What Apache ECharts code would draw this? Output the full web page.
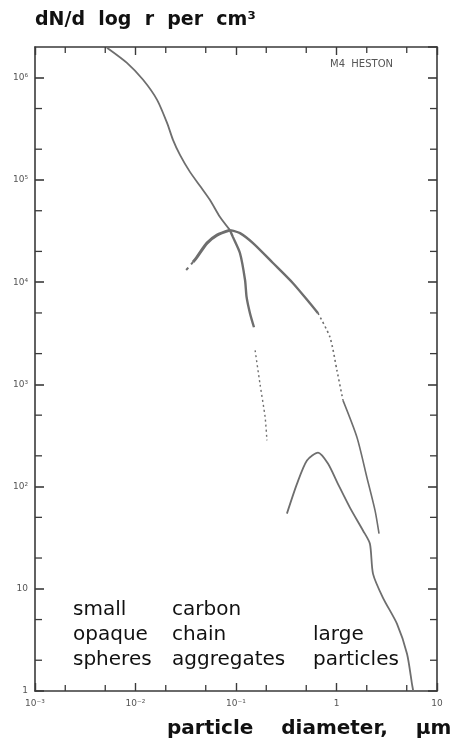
<!DOCTYPE html>
<html>
<head>
<meta charset="utf-8">
<script src="https://cdn.jsdelivr.net/npm/echarts@6/dist/echarts.min.js"></script>
<style>html,body{margin:0;padding:0;background:#fff}#c{width:457px;height:750px}</style>
</head>
<body>
<div id="c"></div>
<script>
// ---- data ----
// particle diameter (µm), dN/d log r (per cm3)
const mainUpper = [[0.0052,1.97e6],[0.00822,1.40e6],[0.0119,9.56e5],[0.0164,6.08e5],[0.0206,3.62e5],[0.0236,2.47e5],[0.0277,1.76e5],[0.0348,1.20e5],[0.0439,8.73e4],[0.0551,6.37e4],[0.0693,4.34e4],[0.0871,3.23e4]];
const rightBranchSolid = [[0.0871,3.23e4],[0.1096,3.02e4],[0.1476,2.41e4],[0.2333,1.54e4],[0.369,9.77e3],[0.544,6.22e3],[0.655,4.97e3]];
const rightBranchDotted = [[0.655,4.97e3],[0.861,2.89e3],[1.01,1.37e3],[1.16,697]];
const rightBranchTail = [[1.16,697],[1.60,302],[2.01,122],[2.42,58.2],[2.65,34.6]];
const leftBranchSolid = [[0.0871,3.23e4],[0.0647,2.89e4],[0.0514,2.41e4],[0.0409,1.76e4],[0.0373,1.57e4]];
const leftBranchDashed = [[0.0373,1.57e4],[0.0318,1.31e4]];
const steepBranchSolid = [[0.0871,3.23e4],[0.0933,2.76e4],[0.1096,1.92e4],[0.123,1.05e4],[0.1275,7.13e3],[0.1377,4.97e3],[0.151,3.62e3]];
const steepBranchDotted = [[0.155,2.15e3],[0.173,1.02e3],[0.195,475],[0.203,283]];
const largeParticles = [[0.321,54.4],[0.405,107],[0.508,180],[0.655,215],[0.822,168],[1.03,107],[1.36,62.3],[1.84,37.0],[2.15,27.6],[2.31,14.0],[2.90,8.16],[4.00,4.54],[5.03,2.31],[5.64,1.17],[5.8,1.0]];

// ---- axes / ticks ----
const xMin = 0.001, xMax = 10, yMin = 1, yMax = 2e6;
const xTickLabels = ['10\u207B\u00B3','10\u207B\u00B2','10\u207B\u00B9','1','10'];   // 1e-3 .. 10
const yTickLabels = ['1','10','10\u00B2','10\u00B3','10\u2074','10\u2075','10\u2076']; // 1 .. 1e6
const xMinorTicks = [0.002,0.005,0.02,0.05,0.2,0.5,2,5];
const yMinorTicks = [2,5,20,50,200,500,2000,5000,2e4,5e4,2e5,5e5];

const titleText = 'dN/d  log  r  per  cm\u00B3';
const xTitleText = 'particle    diameter,    \u00B5m';
const stationText = 'M4  HESTON';
const groupLabels = [
  {text: 'small\nopaque\nspheres', x: 73},
  {text: 'carbon\nchain\naggregates', x: 172},
  {text: 'large\nparticles', x: 313, shift: 1}
];

const axisColor = '#3a3a3a';
const lineColor = '#6e6e6e';

function xFmt(v){ const l = Math.log10(v), i = Math.round(l); return (Math.abs(l - i) < 1e-6 && xTickLabels[i + 3] !== undefined) ? xTickLabels[i + 3] : ''; }
function yFmt(v){ const l = Math.log10(v), i = Math.round(l); return (Math.abs(l - i) < 1e-6 && yTickLabels[i] !== undefined) ? yTickLabels[i] : ''; }

const baseX = {type:'log', logBase:10, min:xMin, max:xMax, interval:1,
  axisLine:{show:true, lineStyle:{color:axisColor, width:1.6}},
  axisTick:{show:true, inside:true, length:8, lineStyle:{color:axisColor, width:1.4}},
  splitLine:{show:false}, minorTick:{show:false}};
const baseY = {type:'log', logBase:10, min:yMin, max:yMax, interval:1,
  axisLine:{show:true, lineStyle:{color:axisColor, width:1.6}},
  axisTick:{show:true, inside:true, length:9, lineStyle:{color:axisColor, width:1.6}},
  splitLine:{show:false}, minorTick:{show:false}};

function lineSeries(data, width, type, smooth){
  return {type:'line', data:data, showSymbol:false, symbol:'none',
    smooth:smooth===undefined?0.25:smooth,
    lineStyle:{color:lineColor, width:width, type:type||'solid'}, silent:true, z:3};
}

const minorData = [];
xMinorTicks.forEach(v => minorData.push([v, yMin, 0]));
yMinorTicks.forEach(v => minorData.push([xMin, v, 1]));

const chart = echarts.init(document.getElementById('c'), null, {renderer:'canvas'});
chart.setOption({
  animation:false,
  backgroundColor:'#ffffff',
  grid:{left:35, right:20, top:47, bottom:59, containLabel:false},
  xAxis:[
    Object.assign({}, baseX, {position:'bottom',
      axisLabel:{show:true, formatter:xFmt, fontSize:9, color:'#555', margin:8, fontFamily:'DejaVu Sans', showMaxLabel:true, showMinLabel:true}}),
    Object.assign({}, baseX, {position:'top', axisLabel:{show:false}})
  ],
  yAxis:[
    Object.assign({}, baseY, {position:'left',
      axisLabel:{show:true, formatter:yFmt, fontSize:9, color:'#555', margin:7, fontFamily:'DejaVu Sans', showMaxLabel:false}}),
    Object.assign({}, baseY, {position:'right', axisLabel:{show:false}})
  ],
  series:[
    lineSeries(mainUpper, 1.8),
    lineSeries(rightBranchSolid, 2.4),
    lineSeries(rightBranchDotted, 1.6, [2,3]),
    lineSeries(rightBranchTail, 1.6),
    lineSeries(leftBranchSolid, 3),
    lineSeries(leftBranchDashed, 2, [3,4]),
    lineSeries(steepBranchSolid, 2.4),
    lineSeries(steepBranchDotted, 1.4, [2,3]),
    lineSeries(largeParticles, 1.8),
    {type:'custom', data:minorData, clip:false, silent:true, z:4,
      encode:{x:0, y:1},
      renderItem:function(params, api){
        const kind = api.value(2), v = kind === 0 ? api.value(0) : api.value(1);
        const st = {stroke:axisColor, lineWidth:1.3};
        if (kind === 0) {
          const b = api.coord([v, yMin]), t = api.coord([v, yMax]);
          return {type:'group', children:[
            {type:'line', shape:{x1:b[0], y1:b[1], x2:b[0], y2:b[1]-6}, style:st},
            {type:'line', shape:{x1:t[0], y1:t[1], x2:t[0], y2:t[1]+6}, style:st}
          ]};
        } else {
          const l = api.coord([xMin, v]), r = api.coord([xMax, v]);
          return {type:'group', children:[
            {type:'line', shape:{x1:l[0], y1:l[1], x2:l[0]+7, y2:l[1]}, style:st},
            {type:'line', shape:{x1:r[0], y1:r[1], x2:r[0]-7, y2:r[1]}, style:st}
          ]};
        }
      }
    }
  ],
  graphic:[
    {type:'text', left:35, top:11, style:{text:titleText, font:'bold 19px "DejaVu Sans"', fill:'#111'}},
    {type:'text', left:330, top:59, style:{text:stationText, font:'10px "DejaVu Sans"', fill:'#555'}},
    {type:'text', left:167, top:719, style:{text:xTitleText, font:'bold 20px "DejaVu Sans"', fill:'#111'}}
  ].concat(groupLabels.map(g => ({type:'text', left:g.x, top:g.shift ? 597 + 25 : 597,
      style:{text:g.text, font:'20px "DejaVu Sans"', lineHeight:25, fill:'#111'}})))
});
</script>
</body>
</html>
